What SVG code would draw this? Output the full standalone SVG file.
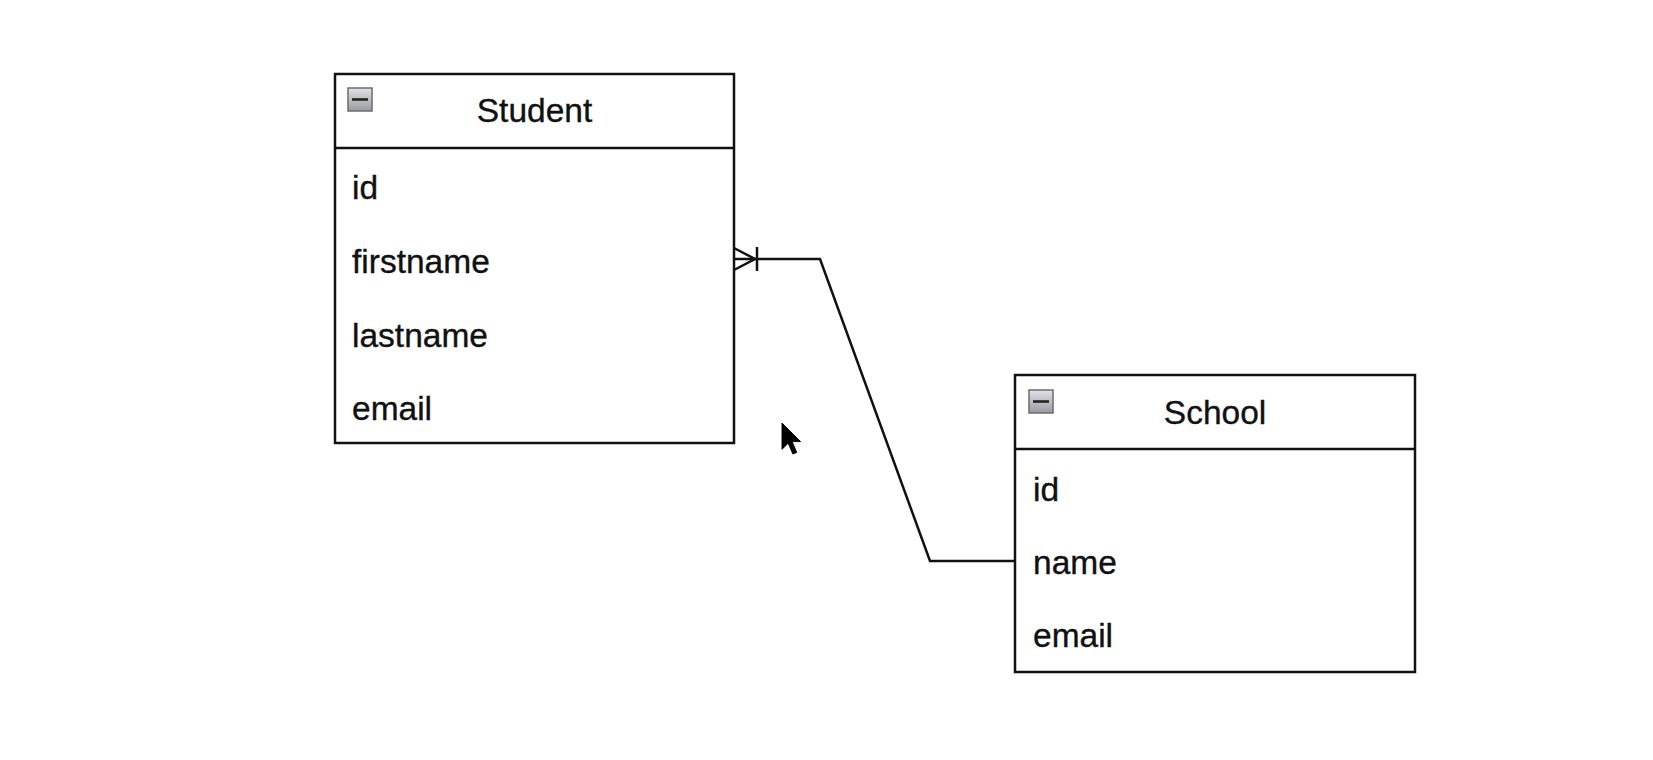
<svg xmlns="http://www.w3.org/2000/svg" width="1653" height="760" viewBox="0 0 1653 760">
  <style>
    .box { fill: #ffffff; stroke: #111111; stroke-width: 2.5; }
    .sep { stroke: #111111; stroke-width: 2.5; }
    .title { font-family: "Liberation Sans", Arial, sans-serif; font-size: 33.5px; fill: #111111; stroke: #111111; stroke-width: 0.35; text-anchor: middle; }
    .row { font-family: "Liberation Sans", Arial, sans-serif; font-size: 33.5px; fill: #111111; stroke: #111111; stroke-width: 0.35; }
    .edge { fill: none; stroke: #111111; stroke-width: 2.5; stroke-linejoin: miter; }
    .icon { fill: url(#iconFill); stroke: #6b6b72; stroke-width: 1.5; }
    .minus { stroke: #222222; stroke-width: 2.6; }
  </style>
  <defs>
    <linearGradient id="iconFill" x1="0" y1="0" x2="0" y2="1">
      <stop offset="0" stop-color="#e2e2e6"/>
      <stop offset="1" stop-color="#9a9aa2"/>
    </linearGradient>
    <filter id="cursorHalo" x="-50%" y="-50%" width="200%" height="200%">
      <feGaussianBlur stdDeviation="1.5"/>
    </filter>
  </defs>

  <rect width="1653" height="760" fill="#ffffff"/>

  <!-- Student entity -->
  <g id="student">
    <rect class="box" x="335" y="74" width="399" height="369"/>
    <line class="sep" x1="335" y1="148" x2="734" y2="148"/>
    <rect class="icon" x="348" y="88" width="24" height="23"/>
    <line class="minus" x1="352" y1="99.5" x2="368" y2="99.5"/>
    <text class="title" x="534.5" y="122">Student</text>
    <text class="row" x="352" y="199">id</text>
    <text class="row" x="352" y="273">firstname</text>
    <text class="row" x="352" y="347">lastname</text>
    <text class="row" x="352" y="420">email</text>
  </g>

  <!-- School entity -->
  <g id="school">
    <rect class="box" x="1015" y="375" width="400" height="297"/>
    <line class="sep" x1="1015" y1="449" x2="1415" y2="449"/>
    <rect class="icon" x="1029" y="390" width="24" height="23"/>
    <line class="minus" x1="1033" y1="401.5" x2="1049" y2="401.5"/>
    <text class="title" x="1215" y="424">School</text>
    <text class="row" x="1033" y="501">id</text>
    <text class="row" x="1033" y="574">name</text>
    <text class="row" x="1033" y="647">email</text>
  </g>

  <!-- Relationship: many Students to one School -->
  <g id="connectors">
    <path class="edge" d="M734 259 H820 L930 561 H1015"/>
    <!-- crow's foot (one or many) at the Student end -->
    <path class="edge" d="M734 248 L755 259 L734 270"/>
    <line class="edge" x1="757" y1="247" x2="757" y2="271"/>
  </g>

  <!-- mouse pointer -->
  <g id="pointer" transform="translate(782 423) scale(1.55)">
    <path d="M0 0 V17 L4 13 L7 20 L9.5 19 L6.5 12 H12 Z" fill="#ffffff" stroke="#ffffff" stroke-width="2.5" filter="url(#cursorHalo)"/>
    <path d="M0 0 V17 L4 13 L7 20 L9.5 19 L6.5 12 H12 Z" fill="#000000" stroke="#000000" stroke-width="0.6" stroke-linejoin="round"/>
  </g>
</svg>
